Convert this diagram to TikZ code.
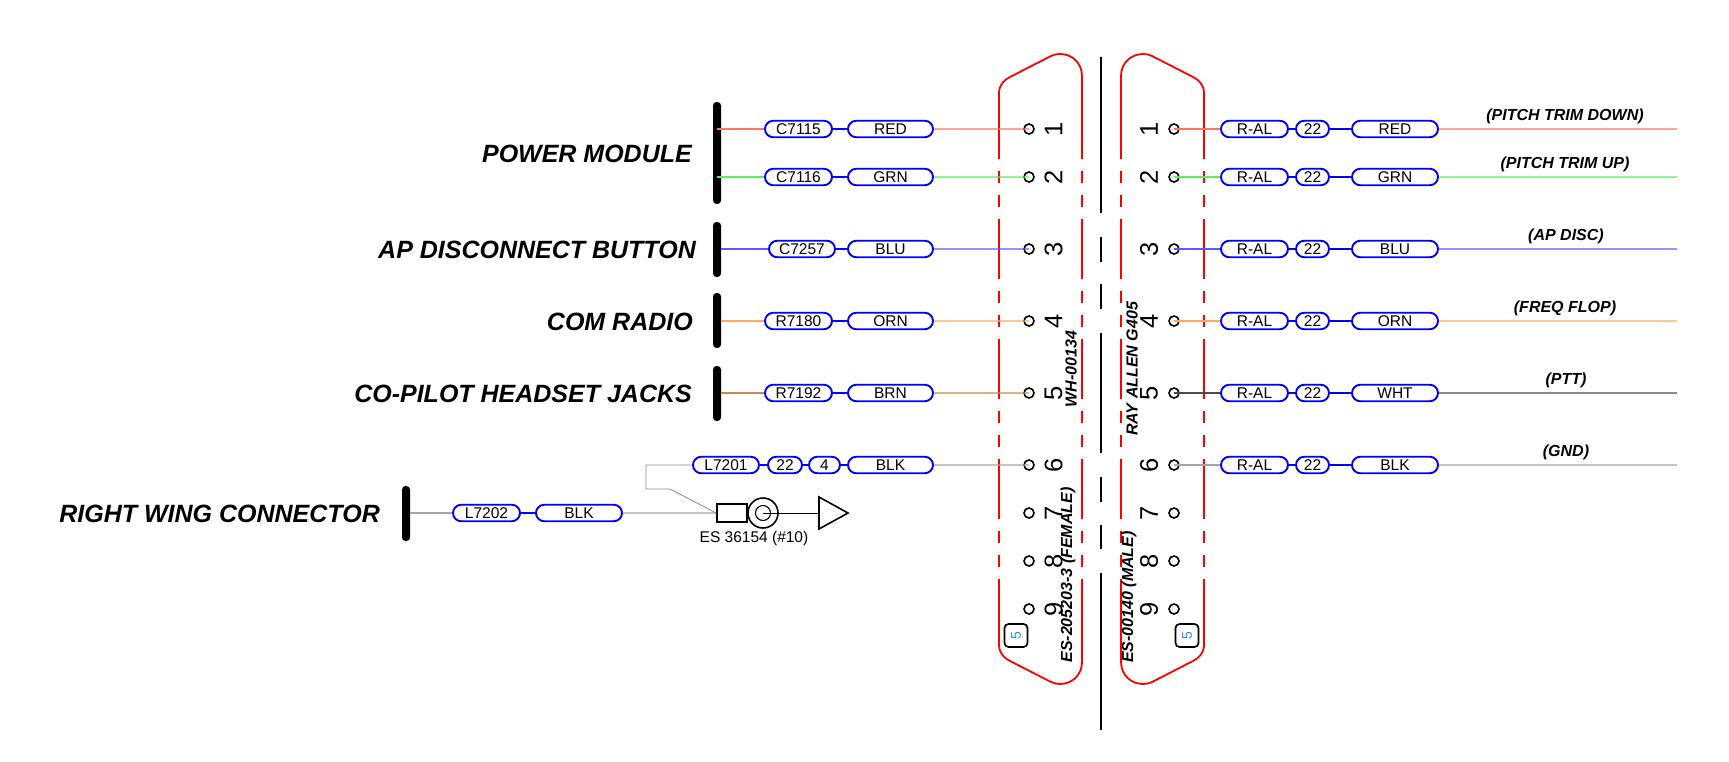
\documentclass[tikz,border=0pt]{standalone}
\usepackage{fontspec}
\setmainfont{Liberation Sans}
\usetikzlibrary{shapes.misc}
\definecolor{wireRed}{RGB}{255,115,95}
\definecolor{wireGrn}{RGB}{90,240,90}
\definecolor{wireBlu}{RGB}{90,90,255}
\definecolor{wireOrn}{RGB}{255,170,95}
\definecolor{wireBrn}{RGB}{205,135,75}
\definecolor{wireWht}{RGB}{75,75,75}
\definecolor{wireBlk}{RGB}{165,165,165}
\definecolor{noteBlu}{RGB}{40,135,255}
\newcommand{\myPill}[5]{
  \node[name=#1, pill, minimum width=#2pt] at (#3,#4) {#5};
}
\newcommand{\myPin}[5]{
  \node[name=pin#1, pinhole] at (#2,#4) {};
  \node[name=num#1, pinnum] at (#3,#4) {#5};
}
\newcommand{\myShell}[1]{
  \begin{scope}[#1]
    \draw[shell] (999,159) -- (999,93) .. controls (999,85) and (1004,80) .. (1010,77) -- (1051,56)
      .. controls (1054,54.5) and (1057,54) .. (1060,54) .. controls (1072,54) and (1082,63) .. (1082,76) -- (1082,159);
    \draw[shell] (999,579) -- (999,645) .. controls (999,653) and (1004,658) .. (1010,661) -- (1051,682)
      .. controls (1054,683.5) and (1057,684) .. (1060,684) .. controls (1072,684) and (1082,675) .. (1082,662) -- (1082,579);
    \draw[shell, wall] (999,171) -- (999,579);
    \draw[shell, wall] (1082,171) -- (1082,579);
  \end{scope}
}

\begin{document}
\begin{tikzpicture}[x=1pt, y=-1pt]
  \tikzset{pill/.style={draw=blue, line width=1.9pt, rounded rectangle, inner sep=0pt, minimum height=16.5pt, font=\fontsize{15.5}{18}\selectfont}}
  \tikzset{bus/.style={fill=black, rectangle, rounded corners=3.5pt, inner sep=0pt, minimum width=8pt}}
  \tikzset{title/.style={anchor=east, inner sep=0pt, font=\fontsize{25}{30}\selectfont\bfseries\itshape}}
  \tikzset{func/.style={inner sep=0pt, font=\fontsize{16}{19}\selectfont\bfseries\itshape}}
  \tikzset{side/.style={rotate=90, inner sep=0pt, font=\fontsize{16}{19}\selectfont\bfseries\itshape}}
  \tikzset{pinhole/.style={draw, circle, line width=1.6pt, inner sep=0pt, minimum size=10pt}}
  \tikzset{pinnum/.style={rotate=90, inner sep=0pt, font=\fontsize{25.5}{28}\selectfont}}
  \tikzset{shell/.style={red, line width=1.8pt}}
  \tikzset{wall/.style={dash pattern=on 12pt off 12pt on 12pt off 12pt on 60pt off 12pt}}
  \tikzset{notebox/.style={draw, line width=1.7pt, rectangle, rounded corners=4pt, minimum size=23pt, inner sep=0pt, text=noteBlu, font=\fontsize{14}{16}\selectfont}}
  \tikzset{link/.style={blue, line width=1.9pt}}
  \tikzset{wire/.style={line width=1.1pt}}
  \useasboundingbox (0,0) rectangle (1729,761);

  % connector shells
  \myShell{}
  \myShell{shift={(2203,0)}, xscale=-1}

  \draw[line width=1.7pt] (1101,57) -- (1101,213) (1101,237) -- (1101,262) (1101,284) -- (1101,309)
    (1101,333) -- (1101,453) (1101,477) -- (1101,502) (1101,525) -- (1101,549) (1101,573) -- (1101,730);

  \myPin{L1}{1029}{1053.5}{129}{1}
  \myPin{L2}{1029}{1053.5}{177}{2}
  \myPin{L3}{1029}{1053.5}{249}{3}
  \myPin{L4}{1029}{1053.5}{321}{4}
  \myPin{L5}{1029}{1053.5}{393}{5}
  \myPin{L6}{1029}{1053.5}{465}{6}
  \myPin{L7}{1029}{1053.5}{513}{7}
  \myPin{L8}{1029}{1053.5}{561}{8}
  \myPin{L9}{1029}{1053.5}{609}{9}

  \myPin{R1}{1174}{1149}{129}{1}
  \myPin{R2}{1174}{1149}{177}{2}
  \myPin{R3}{1174}{1149}{249}{3}
  \myPin{R4}{1174}{1149}{321}{4}
  \myPin{R5}{1174}{1149}{393}{5}
  \myPin{R6}{1174}{1149}{465}{6}
  \myPin{R7}{1174}{1149}{513}{7}
  \myPin{R8}{1174}{1149}{561}{8}
  \myPin{R9}{1174}{1149}{609}{9}

  \node[name=noteL, notebox] at (1016,635.5) {\rotatebox{90}{5}};
  \node[name=noteR, notebox] at (1187,635.5) {\rotatebox{90}{5}};

  \node[name=sideA, side] at (1071,369) {WH-00134};
  \node[name=sideB, side] at (1132,369) {RAY ALLEN G405};
  \node[name=sideC, side] at (1068,575) {ES-205203-3 (FEMALE)};
  \node[name=sideD, side] at (1129,597) {ES-00140 (MALE)};

  % left side
  \node[name=busA, bus, minimum height=102pt] at (717,153) {};
  \node[name=busB, bus, minimum height=55pt] at (717,249.5) {};
  \node[name=busC, bus, minimum height=55pt] at (717,320.5) {};
  \node[name=busD, bus, minimum height=55pt] at (717,393.5) {};
  \node[name=busE, bus, minimum height=55pt] at (406,513.5) {};

  \node[name=titleA, title] at (692,154) {POWER MODULE};
  \node[name=titleB, title] at (696,250) {AP DISCONNECT BUTTON};
  \node[name=titleC, title] at (693,322) {COM RADIO};
  \node[name=titleD, title] at (692,394) {CO-PILOT HEADSET JACKS};
  \node[name=titleE, title] at (380,514) {RIGHT WING CONNECTOR};

  \myPill{wL1}{67}{798.5}{129}{C7115}
  \myPill{cL1}{85}{890.5}{129}{RED}
  \myPill{wL2}{67}{798.5}{177}{C7116}
  \myPill{cL2}{85}{890.5}{177}{GRN}
  \myPill{wL3}{66}{802}{249}{C7257}
  \myPill{cL3}{85}{890.5}{249}{BLU}
  \myPill{wL4}{67}{798.5}{321}{R7180}
  \myPill{cL4}{85}{890.5}{321}{ORN}
  \myPill{wL5}{67}{798.5}{393}{R7192}
  \myPill{cL5}{85}{890.5}{393}{BRN}
  \myPill{wL6}{66}{726}{465}{L7201}
  \myPill{gL6}{34}{785}{465}{22}
  \myPill{nL6}{31}{824.5}{465}{4}
  \myPill{cL6}{85}{890.5}{465}{BLK}
  \myPill{wW}{67}{486.5}{513}{L7202}
  \myPill{cW}{86}{579}{513}{BLK}

  \draw[link] (wL1) -- (cL1);
  \draw[link] (wL2) -- (cL2);
  \draw[link] (wL3) -- (cL3);
  \draw[link] (wL4) -- (cL4);
  \draw[link] (wL5) -- (cL5);
  \draw[link] (wL6) -- (gL6);
  \draw[link] (gL6) -- (nL6);
  \draw[link] (nL6) -- (cL6);
  \draw[link] (wW) -- (cW);

  \draw[wire, wireRed] (busA.center |- wL1) -- (wL1);
  \draw[wire, wireRed] (cL1) -- (pinL1.center);
  \draw[wire, wireGrn] (busA.center |- wL2) -- (wL2);
  \draw[wire, wireGrn] (cL2) -- (pinL2.center);
  \draw[wire, wireBlu] (busB.east |- wL3) -- (wL3);
  \draw[wire, wireBlu] (cL3) -- (pinL3.center);
  \draw[wire, wireOrn] (busC.east |- wL4) -- (wL4);
  \draw[wire, wireOrn] (cL4) -- (pinL4.center);
  \draw[wire, wireBrn] (busD.east |- wL5) -- (wL5);
  \draw[wire, wireBrn] (cL5) -- (pinL5.center);
  \draw[wire, wireBlk] (cL6) -- (pinL6.center);
  \draw[wire, wireBlk] (busE.east |- wW) -- (wW);

  % ground lug
  \node[name=lugBody, draw, line width=1.6pt, rectangle, inner sep=0pt, minimum width=30pt, minimum height=18pt] at (732,513) {};
  \node[name=lugRing, draw, line width=1.6pt, circle, inner sep=0pt, minimum size=30pt] at (763,513) {};
  \node[name=lugHole, draw, line width=1.1pt, circle, inner sep=0pt, minimum size=15pt] at (763,513) {};
  \node[name=lugText, inner sep=0pt, font=\fontsize{15.5}{18}\selectfont] at (754,538) {ES 36154 (\#10)};
  \coordinate (gnd) at (819,513);
  \coordinate (bendA) at (646,465);
  \coordinate (bendB) at (646,489);
  \coordinate (bendC) at (670,489);
  \draw[line width=0.8pt] (lugHole.center) -- (gnd);
  \draw[line width=1.6pt] (gnd) +(0,-16) -- +(29,0) -- +(0,16) -- cycle;
  \draw[wire, wireBlk] (cW) -- (lugBody);
  \draw[line width=0.8pt, black!45] (wL6) -- (bendA) -- (bendB) -- (bendC) -- (lugBody.west);

  % right side
  \myPill{wR1}{67}{1254.5}{129}{R-AL}
  \myPill{gR1}{33}{1312.5}{129}{22}
  \myPill{cR1}{86}{1395}{129}{RED}
  \myPill{wR2}{67}{1254.5}{177}{R-AL}
  \myPill{gR2}{33}{1312.5}{177}{22}
  \myPill{cR2}{86}{1395}{177}{GRN}
  \myPill{wR3}{67}{1254.5}{249}{R-AL}
  \myPill{gR3}{33}{1312.5}{249}{22}
  \myPill{cR3}{86}{1395}{249}{BLU}
  \myPill{wR4}{67}{1254.5}{321}{R-AL}
  \myPill{gR4}{33}{1312.5}{321}{22}
  \myPill{cR4}{86}{1395}{321}{ORN}
  \myPill{wR5}{67}{1254.5}{393}{R-AL}
  \myPill{gR5}{33}{1312.5}{393}{22}
  \myPill{cR5}{86}{1395}{393}{WHT}
  \myPill{wR6}{67}{1254.5}{465}{R-AL}
  \myPill{gR6}{33}{1312.5}{465}{22}
  \myPill{cR6}{86}{1395}{465}{BLK}

  \draw[link] (wR1) -- (gR1);
  \draw[link] (gR1) -- (cR1);
  \draw[link] (wR2) -- (gR2);
  \draw[link] (gR2) -- (cR2);
  \draw[link] (wR3) -- (gR3);
  \draw[link] (gR3) -- (cR3);
  \draw[link] (wR4) -- (gR4);
  \draw[link] (gR4) -- (cR4);
  \draw[link] (wR5) -- (gR5);
  \draw[link] (gR5) -- (cR5);
  \draw[link] (wR6) -- (gR6);
  \draw[link] (gR6) -- (cR6);

  \coordinate (endR) at (1677,129);
  \draw[wire, wireRed] (pinR1.center) -- (wR1);
  \draw[wire, wireRed] (cR1) -- (cR1 -| endR);
  \draw[wire, wireGrn] (pinR2.center) -- (wR2);
  \draw[wire, wireGrn] (cR2) -- (cR2 -| endR);
  \draw[wire, wireBlu] (pinR3.center) -- (wR3);
  \draw[wire, wireBlu] (cR3) -- (cR3 -| endR);
  \draw[wire, wireOrn] (pinR4.center) -- (wR4);
  \draw[wire, wireOrn] (cR4) -- (cR4 -| endR);
  \draw[wire, wireWht] (pinR5.center) -- (wR5);
  \draw[wire, wireWht] (cR5) -- (cR5 -| endR);
  \draw[wire, wireBlk] (pinR6.center) -- (wR6);
  \draw[wire, wireBlk] (cR6) -- (cR6 -| endR);

  \node[name=funcA, func] at (1565,116) {(PITCH TRIM DOWN)};
  \node[name=funcB, func] at (1565,164) {(PITCH TRIM UP)};
  \node[name=funcC, func] at (1566,236) {(AP DISC)};
  \node[name=funcD, func] at (1565,308) {(FREQ FLOP)};
  \node[name=funcE, func] at (1566,380) {(PTT)};
  \node[name=funcF, func] at (1566,452) {(GND)};
\end{tikzpicture}
\end{document}
